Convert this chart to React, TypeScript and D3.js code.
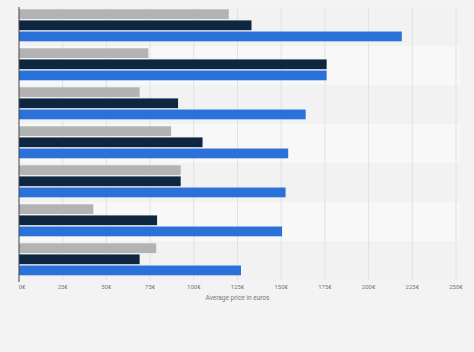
import React, { useEffect, useRef } from "react";
import * as d3 from "d3";

// categories are not labelled in the picture
const categories = ["Group 1", "Group 2", "Group 3", "Group 4", "Group 5", "Group 6", "Group 7"];
const seriesNames = ["Series A", "Series B", "Series C"];
const seriesColors = ["#b3b3b3", "#0e2640", "#2a72d9"];

const seriesA = [120, 74, 69, 87, 92.5, 42.5, 78.5];
const seriesB = [133, 176, 91, 105, 92.5, 79, 69];
const seriesC = [219, 176, 164, 154, 152.5, 150.5, 127];

const ticks = [0, 25, 50, 75, 100, 125, 150, 175, 200, 225, 250];
const axisTitle = "Average price in euros";

export default function App() {
  const ref = useRef<SVGSVGElement>(null);

  useEffect(() => {
    const W = 474, H = 352;
    const left = 19, right = 456, top = 7, bottom = 280;

    const svg = d3.select(ref.current);
    svg.selectAll("*").remove();

    svg.append("rect").attr("width", W).attr("height", H).attr("fill", "#f3f3f3");

    const x = d3.scaleLinear().domain([0, 250]).range([left, right]);
    const y = d3.scaleBand().domain(categories).range([top, bottom]);
    const inner = d3.scaleBand().domain(seriesNames).range([2.3, 34.3]).paddingInner(0.12);

    // alternating row bands
    svg.append("g")
      .selectAll("rect")
      .data(categories)
      .enter()
      .append("rect")
      .attr("x", left)
      .attr("y", d => y(d)!)
      .attr("width", right + 4 - left)
      .attr("height", y.bandwidth())
      .attr("fill", (d, i) => (i % 2 === 0 ? "#f2f2f2" : "#f8f8f8"));

    // vertical grid
    svg.append("g")
      .selectAll("line")
      .data(ticks.slice(1))
      .enter()
      .append("line")
      .attr("x1", d => x(d))
      .attr("x2", d => x(d))
      .attr("y1", top)
      .attr("y2", bottom)
      .attr("stroke", "#e2e2e2")
      .attr("stroke-width", 1);

    const series = [seriesA, seriesB, seriesC];
    series.forEach((vals, si) => {
      svg.append("g")
        .selectAll("rect")
        .data(vals)
        .enter()
        .append("rect")
        .attr("x", x(0))
        .attr("y", (d, i) => y(categories[i])! + inner(seriesNames[si])!)
        .attr("width", d => x(d) - x(0))
        .attr("height", inner.bandwidth())
        .attr("fill", seriesColors[si]);
    });

    // left axis line
    svg.append("line")
      .attr("x1", left)
      .attr("x2", left)
      .attr("y1", top)
      .attr("y2", bottom + 2)
      .attr("stroke", "#444")
      .attr("stroke-width", 1);

    // tick labels
    svg.append("g")
      .selectAll("text")
      .data(ticks)
      .enter()
      .append("text")
      .attr("x", d => x(d) + (d === 0 ? 3 : 0))
      .attr("y", 289)
      .attr("text-anchor", "middle")
      .style("font-family", "Roboto, Arial, sans-serif")
      .style("font-size", "6px")
      .attr("fill", "#777")
      .text(d => `${d}€`);

    svg.append("text")
      .attr("x", x(125))
      .attr("y", 300)
      .attr("text-anchor", "middle")
      .style("font-family", "Roboto, Arial, sans-serif")
      .style("font-size", "6.5px")
      .attr("fill", "#777")
      .text(axisTitle);
  }, []);

  return (
    <div style={{ position: "absolute", left: 0, top: 0 }}>
      <svg ref={ref} width={474} height={352} style={{ display: "block" }} />
    </div>
  );
}
